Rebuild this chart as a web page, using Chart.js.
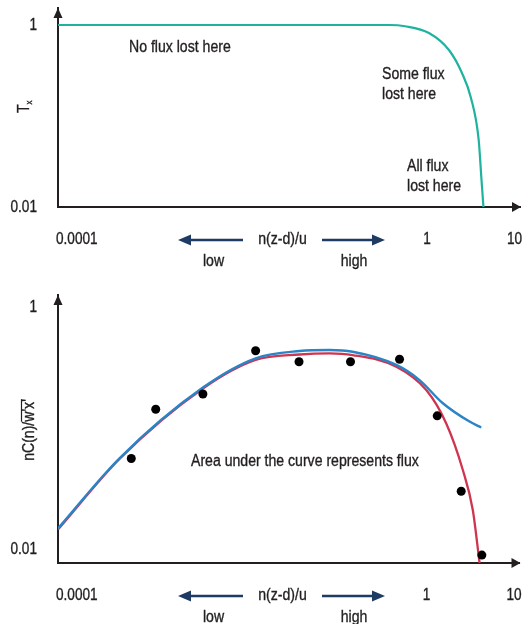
<!DOCTYPE html>
<html>
<head>
<meta charset="utf-8">
<script src="https://cdn.jsdelivr.net/npm/chart.js@4/dist/chart.umd.min.js"></script>
<style>
  html, body { margin: 0; padding: 0; background: #ffffff; }
  #page { position: relative; width: 524px; height: 624px; }
  canvas { position: absolute; left: 0; display: block; }
  #upper { top: 0; }
  #lower { top: 290px; }
</style>
</head>
<body>
<div id="page">
  <canvas id="upper" width="524" height="290"></canvas>
  <canvas id="lower" width="524" height="334"></canvas>
</div>
<script>
// ---- data -----------------------------------------------------------------

// shared horizontal axis: normalised frequency n(z-d)/u
const xTickValues = [0.0001, 1, 10];
const xTickLabels = ['0.0001', '1', '10'];

// upper panel: transfer function T_x
const transferX = [6.1e-5, 0.01, 0.378, 0.561, 1.054, 1.784, 2.512, 3.184, 3.90, 4.20, 4.42];
const transferY = [1, 1, 1, 0.970, 0.817, 0.531, 0.297, 0.158, 0.0545, 0.0198, 0.0100];
const upperYTickValues = [0.01, 1];
const upperYTickLabels = ['0.01', '1'];

// lower panel: measured cospectrum (dots)
const measuredX = [4.2e-4, 8.0e-4, 2.77e-3, 0.0111, 0.0348, 0.135, 0.491, 1.325, 2.49, 4.29];
const measuredY = [0.056, 0.143, 0.191, 0.435, 0.353, 0.353, 0.370, 0.126, 0.030, 0.0089];

// lower panel: ideal cospectrum (blue)
const idealX = [6.1e-5, 3.10e-4, 2.77e-3, 0.0111, 0.0354, 0.0778, 0.1426, 0.451, 0.832, 1.524, 3.10, 4.22];
const idealY = [0.0148, 0.0565, 0.216, 0.377, 0.433, 0.441, 0.427, 0.332, 0.249, 0.161, 0.113, 0.101];

// lower panel: attenuated cospectrum (red)
const attenuatedX = [6.1e-5, 3.10e-4, 2.77e-3, 0.0111, 0.0354, 0.0778, 0.1426, 0.451, 0.993, 1.68, 2.60, 3.38, 4.04];
const attenuatedY = [0.0145, 0.0557, 0.212, 0.365, 0.405, 0.414, 0.401, 0.321, 0.206, 0.109, 0.045, 0.021, 0.00766];
const lowerYTickValues = [0.01, 1];
const lowerYTickLabels = ['0.01', '1'];

// ---- styling ----------------------------------------------------------------
const FONT_FAMILY = "'Liberation Sans', Arial, sans-serif";
const FONT_SIZE = 16;
const SQUEEZE = 0.88;        // condensed look for all lettering
const INK = '#231f20';
const NAVY = '#1d3b63';
const TEAL = '#1fb39f';
const BLUE = '#2a84c6';
const RED = '#cf3550';

const toPoints = (xs, ys) => xs.map((x, i) => ({ x, y: ys[i] }));

// condensed text: measured, then drawn with a horizontal squeeze
function label(ctx, text, x, y, align, size, squeeze) {
  size = size || FONT_SIZE;
  squeeze = squeeze || SQUEEZE;
  ctx.save();
  ctx.font = size + 'px ' + FONT_FAMILY;
  ctx.textAlign = 'left';
  ctx.textBaseline = 'middle';
  ctx.fillStyle = INK;
  ctx.strokeStyle = INK;
  ctx.lineWidth = 0.35;
  const w = ctx.measureText(text).width * squeeze;
  const left = align === 'center' ? x - w / 2 : align === 'right' ? x - w : x;
  ctx.translate(left, y);
  ctx.scale(squeeze, 1);
  ctx.fillText(text, 0, 0);
  ctx.strokeText(text, 0, 0);
  ctx.restore();
  return w;
}

function axisArrows(ctx, a) {
  ctx.fillStyle = INK;
  ctx.beginPath();
  ctx.moveTo(a.left, a.top);
  ctx.lineTo(a.left - 4.5, a.top + 10);
  ctx.lineTo(a.left + 4.5, a.top + 10);
  ctx.closePath();
  ctx.fill();
  ctx.beginPath();
  ctx.moveTo(a.right + 1, a.bottom);
  ctx.lineTo(a.right - 8, a.bottom - 5);
  ctx.lineTo(a.right - 8, a.bottom + 5);
  ctx.closePath();
  ctx.fill();
}

function tickLabels(chart, yLabels) {
  const { ctx, chartArea: a, scales } = chart;
  scales.x.ticks.forEach((t, i) => {
    label(ctx, xTickLabels[i], scales.x.getPixelForValue(t.value), a.bottom + 33, 'center', FONT_SIZE, 0.85);
  });
  scales.y.ticks.forEach((t, i) => {
    label(ctx, yLabels[i], 37, scales.y.getPixelForValue(t.value) + 1, 'right', FONT_SIZE, 0.85);
  });
}

function arrow(ctx, x0, x1, y) {
  const dir = Math.sign(x1 - x0);
  ctx.strokeStyle = NAVY;
  ctx.fillStyle = NAVY;
  ctx.lineWidth = 2.4;
  ctx.beginPath();
  ctx.moveTo(x0, y);
  ctx.lineTo(x1 - dir * 10, y);
  ctx.stroke();
  ctx.beginPath();
  ctx.moveTo(x1, y);
  ctx.lineTo(x1 - dir * 13, y - 5.5);
  ctx.lineTo(x1 - dir * 13, y + 5.5);
  ctx.closePath();
  ctx.fill();
}

function frequencyCaption(ctx, a) {
  const y = a.bottom + 33;
  arrow(ctx, 243, 178, y);
  arrow(ctx, 322, 385, y);
  label(ctx, 'n(z-d)/u', 282.5, y, 'center');
  label(ctx, 'low', 213.5, a.bottom + 55, 'center');
  label(ctx, 'high', 354, a.bottom + 55, 'center');
}

function makeChart(canvas, opts) {
  const noPad = s => { s.paddingLeft = 0; s.paddingRight = 0; s.paddingTop = 0; s.paddingBottom = 0; };
  return new Chart(canvas, {
    type: 'line',
    data: { datasets: opts.datasets },
    options: {
      responsive: false,
      animation: false,
      events: [],
      layout: { padding: { top: opts.top, right: 4, left: 0, bottom: 0 } },
      plugins: { legend: { display: false }, tooltip: { enabled: false } },
      scales: {
        x: {
          type: 'logarithmic',
          position: 'bottom',
          min: 6.1e-5,
          max: 11.56,
          grid: { display: false, drawTicks: false },
          border: { display: true, color: INK, width: 2 },
          afterBuildTicks: s => { s.ticks = xTickValues.map(v => ({ value: v })); },
          afterFit: s => { s.height = opts.xHeight; noPad(s); },
          ticks: { display: false, autoSkip: false }
        },
        y: {
          type: 'logarithmic',
          position: 'left',
          min: opts.yMin,
          max: opts.yMax,
          grid: { display: false, drawTicks: false },
          border: { display: true, color: INK, width: 2 },
          afterBuildTicks: s => { s.ticks = opts.yTickValues.map(v => ({ value: v })); },
          afterFit: s => { s.width = 58; noPad(s); },
          ticks: { display: false, autoSkip: false }
        }
      }
    },
    plugins: [{
      id: 'decor',
      afterDraw(chart) {
        const { ctx, chartArea: a } = chart;
        ctx.save();
        axisArrows(ctx, a);
        tickLabels(chart, opts.yTickLabels);
        frequencyCaption(ctx, a);
        opts.notes.forEach(n => label(ctx, n.text, n.x, n.y, 'left'));
        opts.yTitle(ctx);
        ctx.restore();
      }
    }]
  });
}

// upper panel
makeChart(document.getElementById('upper'), {
  top: 8,
  xHeight: 83,
  yMin: 0.01,
  yMax: 1.538,
  yTickValues: upperYTickValues,
  yTickLabels: upperYTickLabels,
  datasets: [{
    data: toPoints(transferX, transferY),
    borderColor: TEAL, borderWidth: 2.2, pointRadius: 0,
    cubicInterpolationMode: 'monotone', fill: false
  }],
  notes: [
    { text: 'No flux lost here', x: 129, y: 48 },
    { text: 'Some flux', x: 382, y: 75 },
    { text: 'lost here', x: 382, y: 95 },
    { text: 'All flux', x: 407, y: 167 },
    { text: 'lost here', x: 407, y: 187 }
  ],
  yTitle(ctx) {
    ctx.save();
    ctx.translate(25, 108);
    ctx.rotate(-Math.PI / 2);
    const w = label(ctx, 'T', -5, 0, 'left');
    label(ctx, 'x', -5 + w, 5, 'left', 9);
    ctx.restore();
  }
});

// lower panel
makeChart(document.getElementById('lower'), {
  top: 5,
  xHeight: 61,
  yMin: 0.00766,
  yMax: 1.257,
  yTickValues: lowerYTickValues,
  yTickLabels: lowerYTickLabels,
  datasets: [
    {
      data: toPoints(measuredX, measuredY),
      showLine: false, pointRadius: 4.5, pointBackgroundColor: '#000000',
      pointBorderWidth: 0, order: 0
    },
    {
      data: toPoints(idealX, idealY),
      borderColor: BLUE, borderWidth: 2.4, pointRadius: 0,
      cubicInterpolationMode: 'monotone', fill: false, order: 1
    },
    {
      data: toPoints(attenuatedX, attenuatedY),
      borderColor: RED, borderWidth: 2.3, pointRadius: 0,
      cubicInterpolationMode: 'monotone', fill: false, order: 2
    }
  ],
  notes: [
    { text: 'Area under the curve represents flux', x: 191, y: 172 }
  ],
  yTitle(ctx) {
    ctx.save();
    ctx.translate(30, 140);
    ctx.rotate(-Math.PI / 2);
    ctx.font = FONT_SIZE + 'px ' + FONT_FAMILY;
    const head = 'nC(n)/';
    const tail = "w'x'";
    const hw = ctx.measureText(head).width * SQUEEZE;
    const tw = ctx.measureText(tail).width * SQUEEZE;
    const x0 = -(hw + tw) / 2;
    label(ctx, head, x0, 0, 'left');
    label(ctx, tail, x0 + hw, 0, 'left');
    ctx.strokeStyle = INK;
    ctx.lineWidth = 1.2;
    ctx.beginPath();
    ctx.moveTo(x0 + hw, -8.5);
    ctx.lineTo(x0 + hw + tw, -8.5);
    ctx.stroke();
    ctx.restore();
  }
});
</script>
</body>
</html>
